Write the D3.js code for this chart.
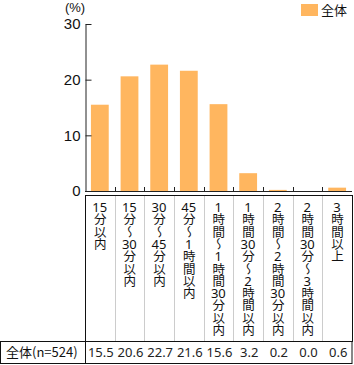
<!DOCTYPE html>
<html>
<head>
<meta charset="utf-8">
<script src="https://cdn.jsdelivr.net/npm/d3@7"></script>
<style>
  body { margin: 0; background: #fff; }
  #wrap { position: relative; width: 354px; height: 365px; }
  svg { display: block; font-family: "Noto Sans CJK JP", "Noto Sans", sans-serif; }
  .vlabel {
    position: absolute;
    writing-mode: vertical-rl;
    text-orientation: upright;
    font-family: "Noto Sans CJK JP", sans-serif;
    color: #111;
    white-space: nowrap;
    text-align: start;
  }
  .num {
    display: inline-block;
    writing-mode: horizontal-tb;
    letter-spacing: 0;
    text-align: center;
  }
</style>
</head>
<body>
<div id="wrap"><svg id="drawing_region"></svg></div>
<script>
const categories = [
    "15分以内",
    "15分〜30分以内",
    "30分〜45分以内",
    "45分〜1時間以内",
    "1時間〜1時間30分以内",
    "1時間30分〜2時間以内",
    "2時間〜2時間30分以内",
    "2時間30分〜3時間以内",
    "3時間以上"
];
const values = [15.5, 20.6, 22.7, 21.6, 15.6, 3.2, 0.2, 0.0, 0.6];
const seriesName = "全体";
const rowLabel = "全体(n=524)";
const yTicks = [0, 10, 20, 30];

const W = 354, H = 365;
const plotLeft = 85, plotRight = 352, plotTop = 24, plotBase = 191;
const tableTop = 195, rowTop = 341, rowBottom = 363;
const barColor = "#ffb65f";

const svg = d3.select("#drawing_region")
    .attr("width", W)
    .attr("height", H);

const xscale = d3.scaleBand()
    .domain(categories)
    .range([plotLeft, plotRight])
    .padding(0);

const yscale = d3.scaleLinear()
    .domain([0, 30])
    .range([plotBase, plotTop]);

// bars
const barW = xscale.bandwidth() * 0.6;
svg.append("g").selectAll("rect")
    .data(values)
    .enter()
    .append("rect")
    .attr("x", (d, i) => xscale(categories[i]) + (xscale.bandwidth() - barW) / 2)
    .attr("y", d => yscale(d))
    .attr("width", barW)
    .attr("height", d => plotBase - yscale(d))
    .attr("fill", barColor);

// y axis
const yaxis = d3.axisLeft(yscale)
    .tickValues(yTicks)
    .tickSizeInner(-6)
    .tickSizeOuter(0)
    .tickPadding(5);

const yg = svg.append("g")
    .attr("transform", `translate(${plotLeft + 0.5},0)`)
    .call(yaxis);
yg.select(".domain").attr("stroke", "#222");
yg.selectAll(".tick line").attr("stroke", "#222");
yg.selectAll(".tick text")
    .attr("font-size", 15)
    .attr("fill", "#111")
    .attr("font-family", "'Liberation Sans', sans-serif");

svg.append("text")
    .attr("x", 75)
    .attr("y", 12)
    .attr("text-anchor", "middle")
    .attr("font-size", 13)
    .attr("fill", "#111")
    .attr("font-family", "'Liberation Sans', sans-serif")
    .text("(%)");

// x axis line + ticks at column boundaries
svg.append("line")
    .attr("x1", plotLeft).attr("x2", plotRight)
    .attr("y1", plotBase + 0.5).attr("y2", plotBase + 0.5)
    .attr("stroke", "#222");
svg.append("g").selectAll("line")
    .data(categories.slice(1))
    .enter()
    .append("line")
    .attr("x1", d => Math.round(xscale(d)) + 0.5)
    .attr("x2", d => Math.round(xscale(d)) + 0.5)
    .attr("y1", plotBase - 4)
    .attr("y2", plotBase)
    .attr("stroke", "#222");

// legend
svg.append("rect")
    .attr("x", 301).attr("y", 4)
    .attr("width", 17).attr("height", 12)
    .attr("fill", barColor);
svg.append("text")
    .attr("x", 321).attr("y", 15)
    .attr("font-size", 13)
    .attr("fill", "#111")
    .text(seriesName);

// table: header column separators
svg.append("g").selectAll("line")
    .data(categories.slice(1))
    .enter()
    .append("line")
    .attr("x1", d => Math.round(xscale(d)) + 0.5)
    .attr("x2", d => Math.round(xscale(d)) + 0.5)
    .attr("y1", tableTop)
    .attr("y2", rowTop)
    .attr("stroke", "#cccccc");

// table borders
svg.append("rect")
    .attr("x", plotLeft + 0.5).attr("y", tableTop + 0.5)
    .attr("width", plotRight - plotLeft).attr("height", rowTop - tableTop)
    .attr("fill", "none").attr("stroke", "#111");
svg.append("rect")
    .attr("x", 0.5).attr("y", rowTop + 0.5)
    .attr("width", plotRight - 0.5).attr("height", rowBottom - rowTop)
    .attr("fill", "none").attr("stroke", "#111");
svg.append("line")
    .attr("x1", plotLeft + 0.5).attr("x2", plotLeft + 0.5)
    .attr("y1", rowTop).attr("y2", rowBottom)
    .attr("stroke", "#111");

// vertical category labels (vertical writing, numbers kept horizontal)
const fs = 12.5;
const wrap = d3.select("#wrap");
categories.forEach(c => {
    const div = wrap.append("div")
        .attr("class", "vlabel")
        .style("left", xscale(c) + "px")
        .style("top", "201px")
        .style("width", xscale.bandwidth() + "px")
        .style("line-height", xscale.bandwidth() + "px")
        .style("font-size", fs + "px")
        .style("letter-spacing", "-0.2px");
    c.match(/\d+|\D+/g).forEach(p => {
        if (/\d/.test(p)) {
            div.append("span")
                .attr("class", "num")
                .style("height", "12.3px")
                .style("line-height", "12.3px")
                .style("font-family", "'Noto Sans', sans-serif")
                .style("font-size", "13px")
                .text(p);
        } else {
            div.append("span").text(p);
        }
    });
});

// data row
svg.append("text")
    .attr("x", 6)
    .attr("y", 357)
    .attr("font-size", 13)
    .attr("fill", "#111")
    .text(rowLabel);

svg.append("g").selectAll("text")
    .data(values)
    .enter()
    .append("text")
    .attr("x", (d, i) => xscale(categories[i]) + xscale.bandwidth() / 2 + 1)
    .attr("y", 357)
    .attr("text-anchor", "middle")
    .attr("font-size", 13)
    .attr("fill", "#222")
    .attr("font-family", "'Noto Sans', sans-serif")
    .text(d => d.toFixed(1));
</script>
</body>
</html>
